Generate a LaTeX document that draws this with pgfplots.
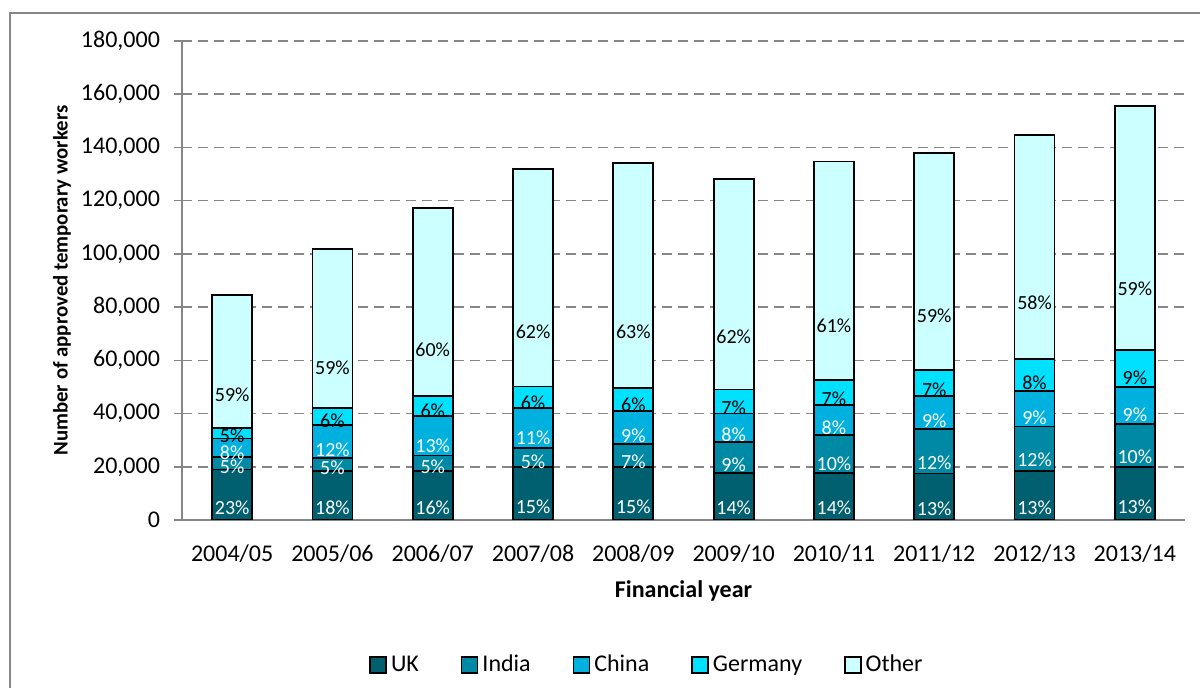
\documentclass[border=0pt]{standalone}
\usepackage{pgfplots}
\pgfplotsset{compat=1.18}
\usepackage{fontspec}
\setmainfont{Carlito}
\definecolor{cUK}{RGB}{0,96,112}
\definecolor{cIndia}{RGB}{0,137,164}
\definecolor{cChina}{RGB}{0,176,222}
\definecolor{cGermany}{RGB}{0,224,255}
\definecolor{cOther}{RGB}{204,255,255}
\definecolor{linegray}{RGB}{134,134,134}

\begin{document}
\begin{tikzpicture}
\useasboundingbox (-91pt,-84pt) rectangle (509pt,260pt);
% chart frame
\draw[linegray, line width=0.7pt] (-86pt,-95pt) rectangle (530pt,253.5pt);
\begin{axis}[
    width=501.5pt, height=239.5pt, scale only axis,
    ybar stacked, bar width=20pt,
    xmin=-0.5, xmax=9.5, ymin=0, ymax=180,
    xtick={0,...,9},
    xticklabels={2004/05,2005/06,2006/07,2007/08,2008/09,2009/10,2010/11,2011/12,2012/13,2013/14},
    ytick={0,20,...,180},
    yticklabels={0,{20,000},{40,000},{60,000},{80,000},{100,000},{120,000},{140,000},{160,000},{180,000}},
    axis x line*=bottom, axis y line*=left,
    axis line style={draw=linegray, line width=0.8pt, -},
    ymajorgrids,
    grid style={draw=linegray, line width=0.8pt, dash pattern=on 5pt off 3pt},
    tick label style={font=\fontsize{12}{14}\selectfont},
    xtick style={draw=none},
    ytick style={draw=linegray, line width=0.8pt},
    tick align=outside, major tick length=4pt,
    xticklabel style={anchor=center, yshift=-13pt},
    yticklabel style={xshift=-3.5pt},
    xlabel={Financial year},
    xlabel style={font=\bfseries\fontsize{12}{14}\selectfont, at={(axis description cs:0.5,-0.148)}, anchor=center},
    ylabel={Number of approved temporary workers},
    ylabel style={font=\bfseries\fontsize{10.4}{12}\selectfont, at={(axis description cs:-0.1196,0.5)}, anchor=center},
    legend style={at={(axis description cs:0.4646,-0.3027)}, anchor=center, draw=none,
        font=\fontsize{12}{14}\selectfont, legend columns=5,
        /tikz/every even column/.append style={column sep=19pt}},
    legend image code/.code={\draw[#1, draw=black, line width=0.8pt] (0pt,-4pt) rectangle (8pt,4pt);},
    visualization depends on={rawy \as \rawy},
    nodes near coords, point meta=explicit symbolic,
    every node near coord/.append style={font=\fontsize{10}{11}\selectfont, inner sep=0pt, anchor=center, yshift=-\rawy*0.33264pt},
]
\addplot[fill=cUK, draw=black, line width=0.9pt, every node near coord/.append style={text=white}]
  coordinates {(0,19.0)[23\%] (1,18.5)[18\%] (2,18.5)[16\%] (3,20.0)[15\%] (4,19.8)[15\%]
               (5,17.8)[14\%] (6,17.8)[14\%] (7,17.5)[13\%] (8,18.4)[13\%] (9,19.9)[13\%]};
\addlegendentry{UK}
\addplot[fill=cIndia, draw=black, line width=0.9pt, every node near coord/.append style={text=white}]
  coordinates {(0,4.6)[5\%] (1,4.7)[5\%] (2,5.7)[5\%] (3,7.0)[5\%] (4,8.8)[7\%]
               (5,11.4)[9\%] (6,14.0)[10\%] (7,16.6)[12\%] (8,16.7)[12\%] (9,16.1)[10\%]};
\addlegendentry{India}
\addplot[fill=cChina, draw=black, line width=0.9pt, every node near coord/.append style={text=white}]
  coordinates {(0,7.0)[8\%] (1,12.5)[12\%] (2,14.9)[13\%] (3,15.0)[11\%] (4,12.4)[9\%]
               (5,10.8)[8\%] (6,11.3)[8\%] (7,12.6)[9\%] (8,13.4)[9\%] (9,14.1)[9\%]};
\addlegendentry{China}
\addplot[fill=cGermany, draw=black, line width=0.9pt, every node near coord/.append style={text=black}]
  coordinates {(0,4.1)[5\%] (1,6.4)[6\%] (2,7.4)[6\%] (3,8.2)[6\%] (4,8.6)[6\%]
               (5,9.0)[7\%] (6,9.5)[7\%] (7,9.7)[7\%] (8,11.9)[8\%] (9,13.8)[9\%]};
\addlegendentry{Germany}
\addplot[fill=cOther, draw=black, line width=0.9pt, every node near coord/.append style={text=black}]
  coordinates {(0,49.9)[59\%] (1,59.7)[59\%] (2,70.6)[60\%] (3,81.7)[62\%] (4,84.4)[63\%]
               (5,79.0)[62\%] (6,82.1)[61\%] (7,81.6)[59\%] (8,84.3)[58\%] (9,91.7)[59\%]};
\addlegendentry{Other}
\end{axis}
\end{tikzpicture}
\end{document}
